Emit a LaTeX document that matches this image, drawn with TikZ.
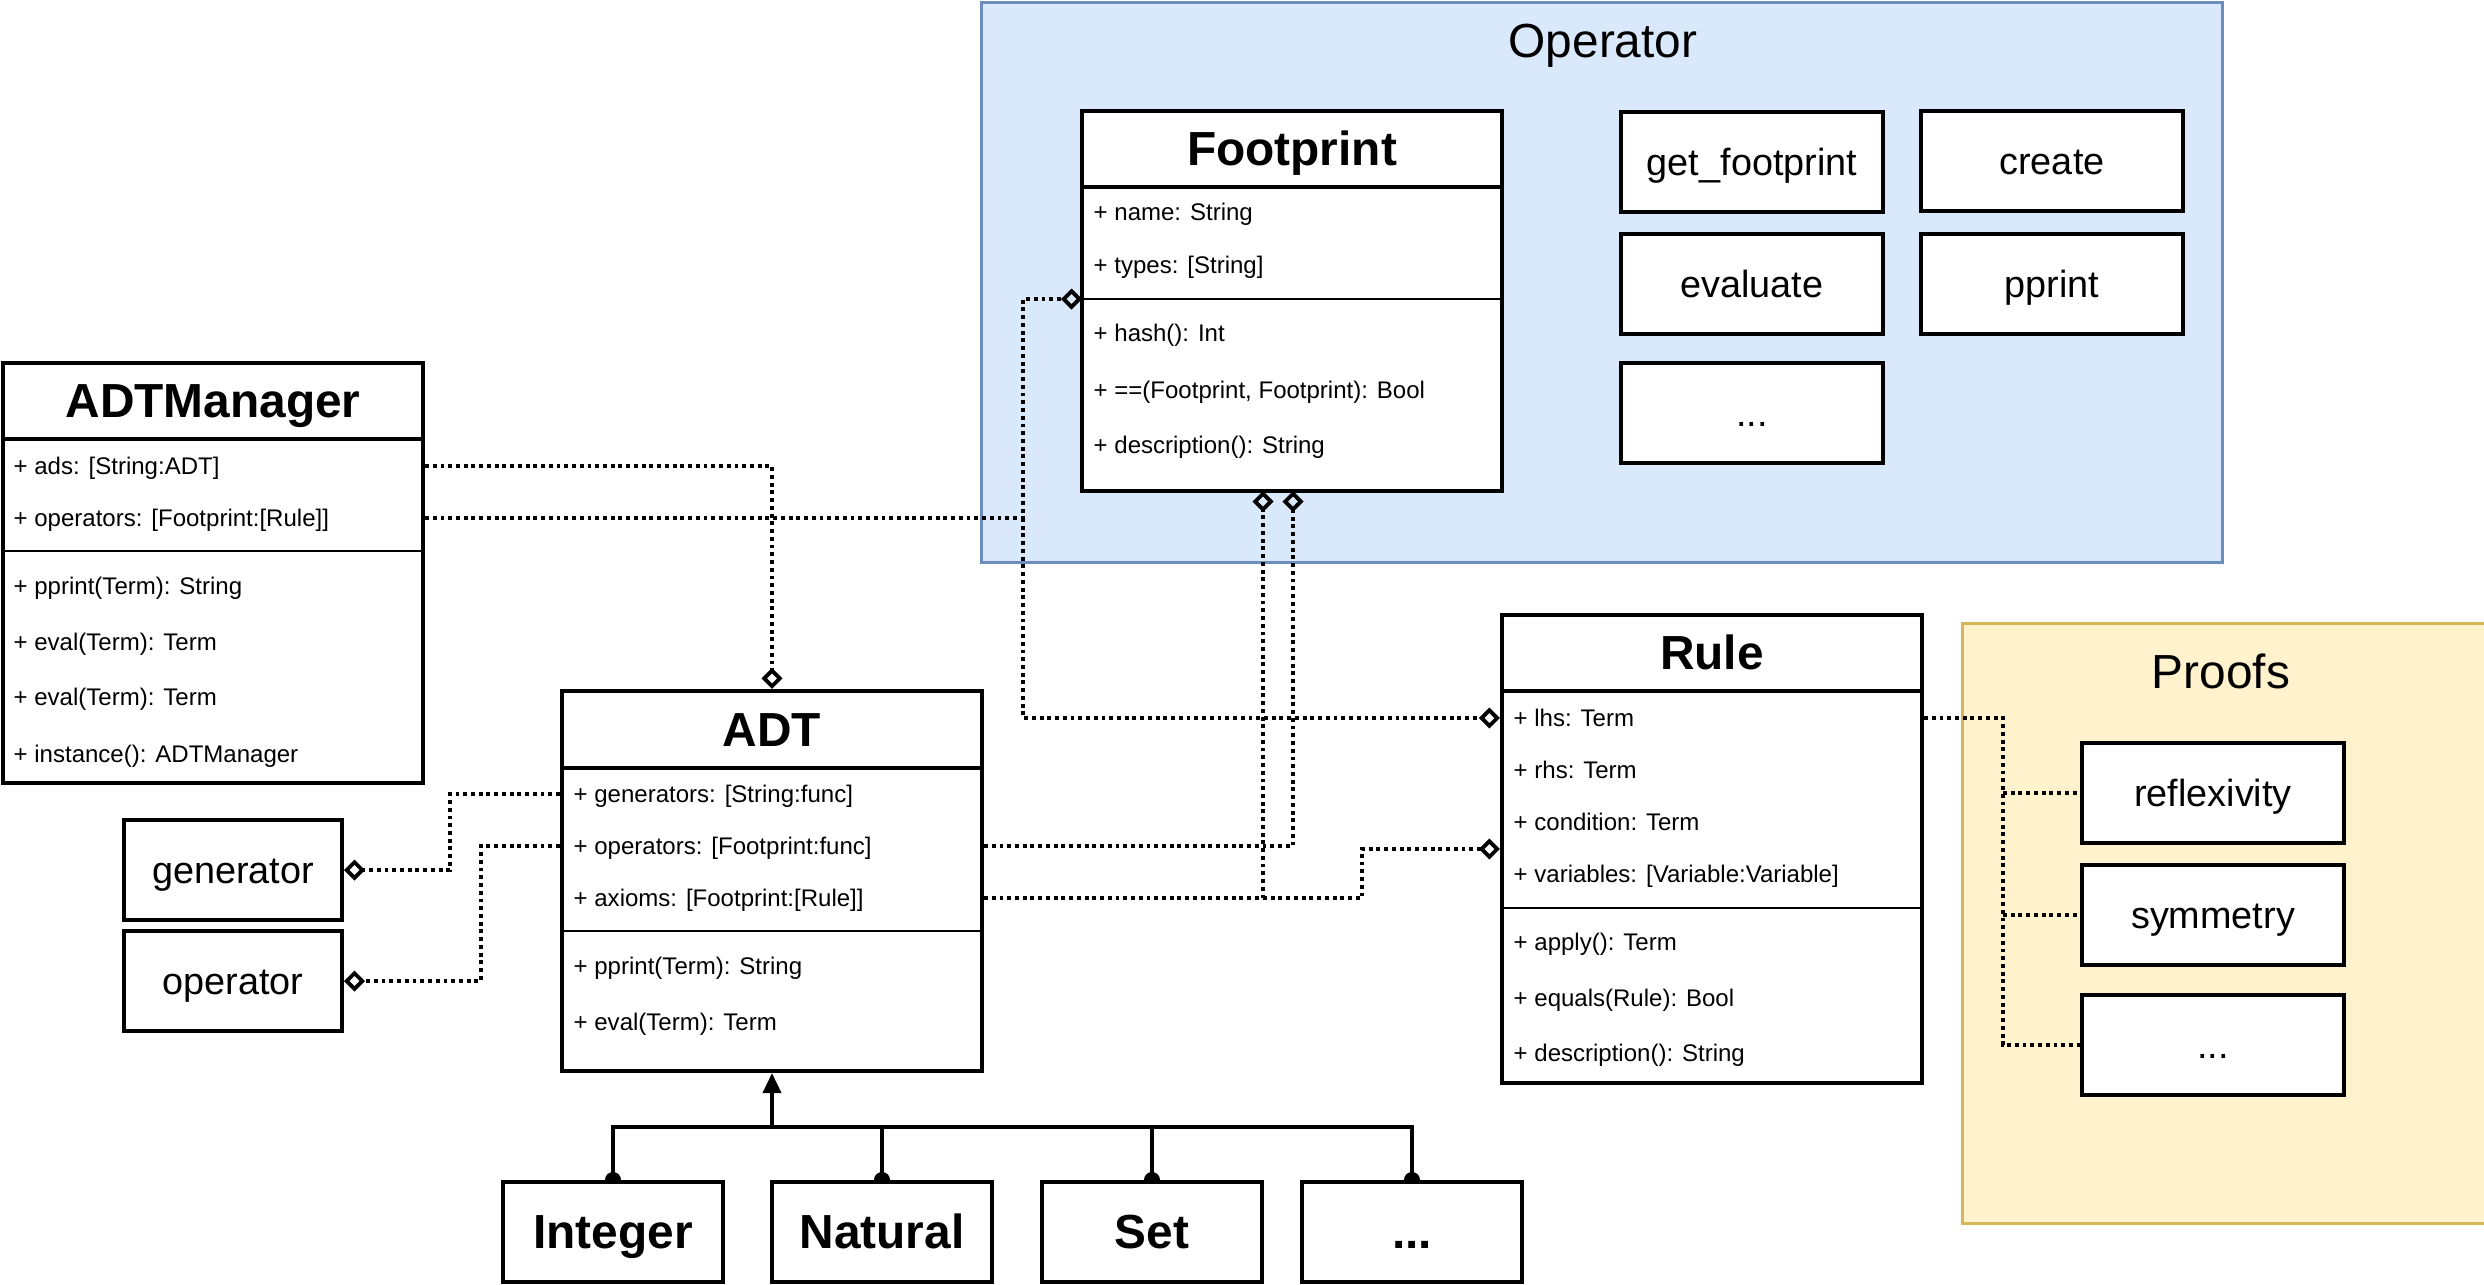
\documentclass[tikz,border=0pt]{standalone}
\usepackage{fontspec}
\setmainfont{Liberation Sans}
\usetikzlibrary{arrows.meta}
\definecolor{opfill}{HTML}{DAE8FC}
\definecolor{opline}{HTML}{6C8EBF}
\definecolor{prfill}{HTML}{FFF2CC}
\definecolor{prline}{HTML}{D6B656}
\pgfdeclarelayer{bg}
\pgfsetlayers{bg,main}
\newcommand{\rowfont}{\fontsize{6.83}{8}\selectfont}
\newcommand{\titlefont}{\fontsize{13.6}{16}\selectfont}
\newcommand{\boxfont}{\fontsize{10.75}{13}\selectfont}

\begin{document}
\begin{tikzpicture}[x=0.01cm, y=-0.01cm,
	classbox/.style={draw, fill=white, line width=1.1pt, inner sep=0pt, minimum width=4.2cm},
	plainbox/.style={draw, fill=white, line width=1.1pt, inner sep=0pt, minimum width=2.62cm, minimum height=1cm, font=\boxfont, text height=9.73pt, text depth=2.28pt},
	subbox/.style={draw, fill=white, line width=1.1pt, inner sep=0pt, minimum width=2.2cm, minimum height=1cm, font=\titlefont\bfseries, text height=12.3pt, text depth=2.88pt},
	group/.style={line width=0.85pt, inner sep=0pt},
	grouptitle/.style={font=\titlefont, text height=12.3pt, text depth=2.88pt},
	classtitle/.style={font=\titlefont\bfseries, text height=12.3pt, text depth=2.88pt},
	rowtext/.style={anchor=west, inner sep=0pt, font=\rowfont, text height=6.18pt, text depth=1.45pt},
	headline/.style={line width=1.1pt},
	sepline/.style={line width=0.6pt},
	aggr/.style={line width=1.1pt, dash pattern=on 1.1pt off 1.1pt, -{Diamond[open, length=0.21cm, width=0.21cm]}},
	dep/.style={line width=1.1pt, dash pattern=on 1.1pt off 1.1pt},
	gen/.style={line width=1.1pt}]
	\useasboundingbox (0,0) rectangle (2484,1284);
	
	% Gruppen (Hintergrund)
	\begin{pgfonlayer}{bg}
		\node[group, draw=opline, fill=opfill, minimum width=12.4cm, minimum height=5.59cm] (opgroup) at (1602,282.5) {};
		\node[group, draw=prline, fill=prfill, minimum width=5.5cm, minimum height=5.99cm] (prgroup) at (2238,923.5) {};
	\end{pgfonlayer}
	\node[grouptitle] (optitle) at (1603,41) {Operator};
	\node[grouptitle] (prtitle) at (2221,672) {Proofs};
	
	% ADTManager
	\node[classbox, minimum height=4.2cm] (adtm) at (213,573) {};
	\draw[headline] (3,439) -- (423,439);
	\draw[sepline] (3,551) -- (423,551);
	\node[classtitle] (adtm-t) at (213,401) {ADTManager};
	\node[rowtext] (am-ads) at (13,466) {+ ads: [String:ADT]};
	\node[rowtext] (am-ops) at (13,518) {+ operators: [Footprint:[Rule]]};
	\node[rowtext] (am-pp) at (13,586) {+ pprint(Term): String};
	\node[rowtext] (am-ev1) at (13,642) {+ eval(Term): Term};
	\node[rowtext] (am-ev2) at (13,697) {+ eval(Term): Term};
	\node[rowtext] (am-inst) at (13,754) {+ instance(): ADTManager};
	
	% Footprint
	\node[classbox, minimum height=3.8cm] (fp) at (1292,301) {};
	\draw[headline] (1082,187) -- (1502,187);
	\draw[sepline] (1082,299) coordinate (fp-sep) -- (1502,299);
	\node[classtitle] (fp-t) at (1292,149) {Footprint};
	\node[rowtext] (fp-name) at (1093,212) {+ name: String};
	\node[rowtext] (fp-types) at (1093,265) {+ types: [String]};
	\node[rowtext] (fp-hash) at (1093,333) {+ hash(): Int};
	\node[rowtext] (fp-eq) at (1093,390) {+ ==(Footprint, Footprint): Bool};
	\node[rowtext] (fp-desc) at (1093,445) {+ description(): String};
	\coordinate (fp-b1) at (1263,491);
	\coordinate (fp-b2) at (1293,491);
	
	% Operator-Funktionen
	\node[plainbox] (op-get) at (1752,162) {get\_footprint};
	\node[plainbox] (op-create) at (2052,161) {create};
	\node[plainbox] (op-eval) at (1752,284) {evaluate};
	\node[plainbox] (op-pp) at (2052,284) {pprint};
	\node[plainbox] (op-dots) at (1752,413) {...};
	
	% ADT
	\node[classbox, minimum height=3.8cm] (adt) at (772,881) {};
	\draw[headline] (562,768) -- (982,768);
	\draw[sepline] (562,931) -- (982,931);
	\node[classtitle] (adt-t) at (772,730) {ADT};
	\node[rowtext] (adt-gen) at (573,794) {+ generators: [String:func]};
	\node[rowtext] (adt-ops) at (573,846) {+ operators: [Footprint:func]};
	\node[rowtext] (adt-ax) at (573,898) {+ axioms: [Footprint:[Rule]]};
	\node[rowtext] (adt-pp) at (573,966) {+ pprint(Term): String};
	\node[rowtext] (adt-ev) at (573,1022) {+ eval(Term): Term};
	
	\node[plainbox, minimum width=2.18cm] (gen) at (233,870) {generator};
	\node[plainbox, minimum width=2.18cm] (opb) at (233,981) {operator};
	
	% Rule
	\node[classbox, minimum height=4.68cm] (rule) at (1712,849) {};
	\draw[headline] (1502,691) -- (1922,691);
	\draw[sepline] (1502,908) -- (1922,908);
	\node[classtitle] (rule-t) at (1712,653) {Rule};
	\node[rowtext] (ru-lhs) at (1513,718) {+ lhs: Term};
	\node[rowtext] (ru-rhs) at (1513,770) {+ rhs: Term};
	\node[rowtext] (ru-cond) at (1513,822) {+ condition: Term};
	\node[rowtext] (ru-vars) at (1513,874) {+ variables: [Variable:Variable]};
	\node[rowtext] (ru-apply) at (1513,942) {+ apply(): Term};
	\node[rowtext] (ru-eq) at (1513,998) {+ equals(Rule): Bool};
	\node[rowtext] (ru-desc) at (1513,1053) {+ description(): String};
	
	% Beweise
	\node[plainbox] (pr-refl) at (2213,793) {reflexivity};
	\node[plainbox] (pr-sym) at (2213,915) {symmetry};
	\node[plainbox] (pr-dots) at (2213,1045) {...};
	
	% Unterklassen
	\node[subbox] (int) at (613,1232) {Integer};
	\node[subbox] (nat) at (882,1232) {Natural};
	\node[subbox] (set) at (1152,1232) {Set};
	\node[subbox] (sub-dots) at (1412,1232) {...};
	
	% Verbindungen
	\begin{pgfonlayer}{bg}
		\draw[aggr] (adtm.east |- am-ads) -| (adt.north);
		\coordinate (j1) at (1023,518);
		\draw[aggr] (adtm.east |- am-ops) -- (j1) |- (fp-sep);
		\draw[aggr] (j1) |- (rule.west |- ru-lhs);
		\draw[aggr] (adt.east |- adt-ops) -| (fp-b2);
		\draw[aggr] (adt.east |- adt-ax) -| (fp-b1);
		\coordinate (j2) at (1362,898);
		\draw[aggr] (fp-b1 |- adt-ax) -- (j2) |- (rule.west);
		\draw[aggr] (adt.west |- adt-gen) -- ++(-110,0) |- (gen.east);
		\draw[aggr] (adt.west |- adt-ops) -- ++(-79,0) |- (opb.east);
		
		\coordinate (jp) at (2003,718);
		\draw[dep] (rule.east |- ru-lhs) -- (jp) |- (pr-dots.west);
		\draw[dep] (jp |- pr-refl) -- (pr-refl.west);
		\draw[dep] (jp |- pr-sym) -- (pr-sym.west);
		
		\coordinate (bus) at (772,1127);
		\foreach \s in {int,nat,set,sub-dots}
			\draw[gen, {Circle[length=0.16cm]}-, shorten <=-0.08cm] (\s.north) |- (bus);
		\draw[gen, -{Triangle[length=0.2cm, width=0.18cm]}] (bus) -- (adt.south);
	\end{pgfonlayer}
\end{tikzpicture}
\end{document}
